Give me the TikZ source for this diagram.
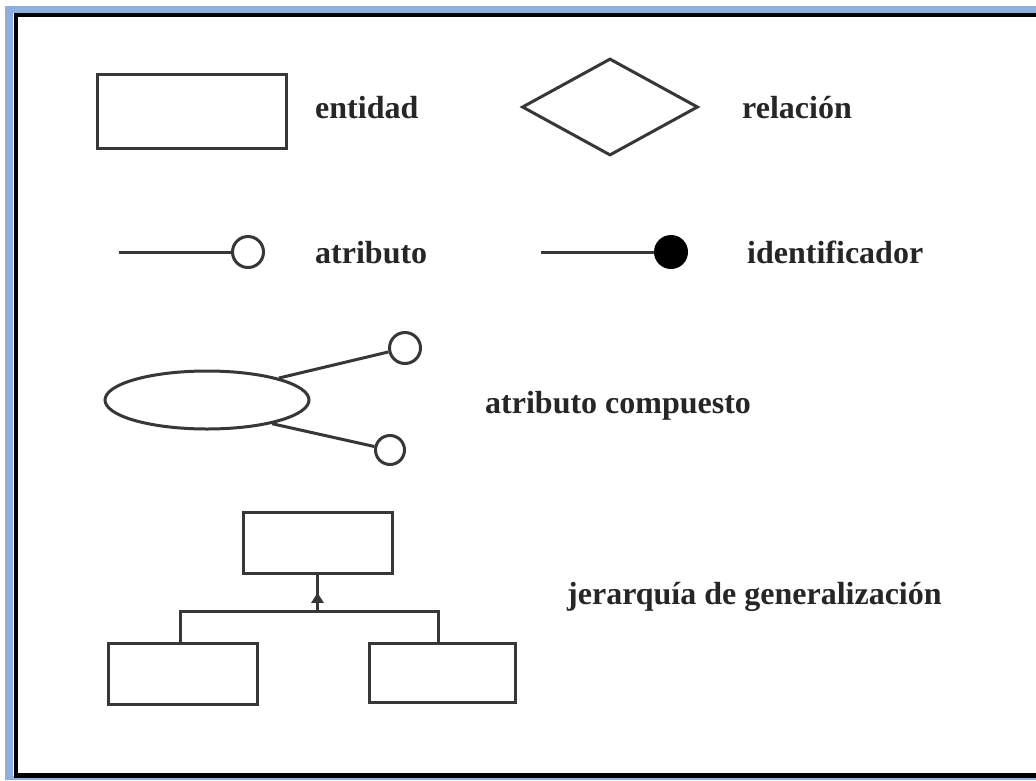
\documentclass[tikz,border=0pt]{standalone}
\usepackage{fontspec}
\setmainfont{Liberation Serif}
\usepackage{tikz}
\usetikzlibrary{arrows.meta, shapes.geometric, decorations.markings}
\definecolor{azulmarco}{RGB}{141,176,224}
\definecolor{gristrazo}{RGB}{55,55,55}
\tikzstyle{trazo} = [draw=gristrazo, line width=3pt]
\tikzstyle{entidadbox} = [trazo, rectangle, inner sep=0pt, minimum width=149pt, minimum height=61pt]
\tikzstyle{atrib} = [trazo, circle, inner sep=0pt, minimum size=31pt, fill=white]
\tikzstyle{ident} = [atrib, fill=black, draw=black]
\tikzstyle{etiqueta} = [anchor=base west, inner sep=0pt, font=\fontsize{32}{38}\selectfont\bfseries, text=black!85]
\tikzstyle{flechamedia} = [trazo, decoration={markings, mark=at position 0.5 with {\arrow{Triangle[width=12pt,length=10pt]}}}, postaction={decorate}]

\begin{document}
\begin{tikzpicture}[x=1pt, y=-1pt]
	\useasboundingbox (0,0) rectangle (1036,780);
	\fill[white] (0,0) rectangle (1036,780);
	\fill[azulmarco] (5,6) rectangle (1036,780);
	\fill[white] (13,13) rectangle (1036,776);
	\draw[black, line width=4.5pt] (16,15) rectangle (1070,775.5);

	% entidad y relacion
	\node[entidadbox, minimum width=189pt, minimum height=74pt] (E) at (191.5,111) {};
	\node[etiqueta] (tE) at (315,118) {entidad};

	\node[trazo, diamond, inner sep=0pt, minimum width=176pt, minimum height=97pt] (R) at (610,107) {};
	\node[etiqueta] (tR) at (742,118) {relación};

	% atributo e identificador
	\coordinate (a0) at (119,252);
	\node[atrib] (A) at (248,252) {};
	\draw[trazo] (a0) -- (A);
	\node[etiqueta] (tA) at (315,263) {atributo};

	\coordinate (i0) at (541,252);
	\node[ident] (I) at (671,252) {};
	\draw[trazo] (i0) -- (I);
	\node[etiqueta] (tI) at (747,263) {identificador};

	% atributo compuesto
	\node[trazo, ellipse, inner sep=0pt, minimum width=204pt, minimum height=58pt] (C) at (207,400) {};
	\node[atrib] (C1) at (405,348) {};
	\node[atrib, minimum size=29pt] (C2) at (390,450) {};
	\draw[trazo] (C.17) -- (C1);
	\draw[trazo] (C.-20) -- (C2);
	\node[etiqueta] (tC) at (485,413) {atributo compuesto};

	% jerarquia
	\node[entidadbox] (P) at (317.5,542.5) {};
	\node[entidadbox] (H1) at (182.5,673.5) {};
	\node[entidadbox, minimum width=146pt, minimum height=59pt] (H2) at (442,672.5) {};
	\coordinate (barra) at (317.5,611);
	\draw[trazo] (H1.north -| 180,0) |- (barra) -| (H2.north -| 438,0);
	\draw[flechamedia] (barra) -- (P.south);
	\node[etiqueta] (tJ) at (567,604) {jerarquía de generalización};
\end{tikzpicture}
\end{document}
